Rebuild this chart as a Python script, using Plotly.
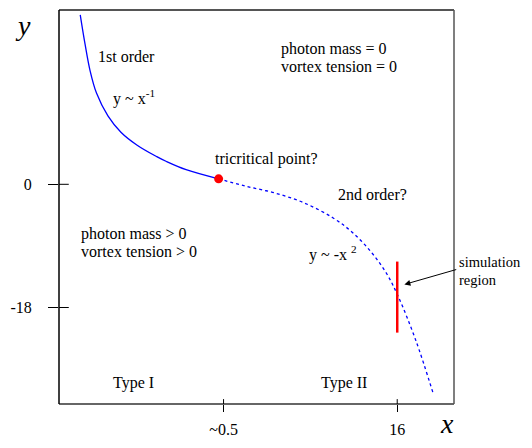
import plotly.graph_objects as go

# ---- data (nominal axis units) ----
solid_x = [-12.29, -11.86, -11.42, -10.84, -9.82, -8.66, -7.21, -5.46, -4.59, -2.84, 0.06]
solid_y = [24.76, 20.47, 16.66, 13.33, 10.0, 7.61, 5.71, 4.04, 3.33, 2.14, 0.8]
dash_x = [0.06, 2.39, 5.01, 7.63, 10.25, 12.0, 13.74, 15.05, 16.09, 17.66, 19.23]
dash_y = [0.8, -0.24, -1.24, -2.67, -4.89, -7.03, -10.03, -13.03, -16.39, -22.81, -30.67]
tricritical_x = [0.06]
tricritical_y = [0.8]
sim_x = [16.0, 16.0]
sim_y = [-11.29, -21.67]
arrow_head = (16.64, -14.63)
arrow_tail = (21.4, -12.39)

x_tickvals = [0.5, 16]
x_ticktext = ["~0.5", "16"]
y_tickvals = [0, -18]
y_ticktext = ["0", "-18"]

x_range = [-14.186, 21.067]
y_range = [-32.1, 25.47]

# The page keeps its default 8px body margin; the figure is sized so the whole
# page fits the 532x448 window exactly (no scrollbars), plot box at 50..454 x 10..413.
OFF = 8
W, H = 532 - 2 * OFF, 448 - 2 * OFF
BOX_L, BOX_R, BOX_T, BOX_B = 50, 454, 10, 413
L, T = BOX_L - OFF, BOX_T - OFF
R, B = (OFF + W) - BOX_R, (OFF + H) - BOX_B
PW, PH = W - L - R, H - T - B

def P(px, py):
    return (px - BOX_L) / PW, (BOX_B - py) / PH

FONT = "Liberation Serif"
FS = 16

fig = go.Figure()
fig.add_trace(go.Scatter(x=solid_x, y=solid_y, mode="lines", line=dict(color="#0000ff", width=1.3, shape="spline", smoothing=1.0), hoverinfo="skip"))
fig.add_trace(go.Scatter(x=dash_x, y=dash_y, mode="lines", line=dict(color="#0000ff", width=1.3, dash="3px,3px", shape="spline", smoothing=1.0), hoverinfo="skip"))
fig.add_trace(go.Scatter(x=sim_x, y=sim_y, mode="lines", line=dict(color="#ff0000", width=2.5), hoverinfo="skip"))
fig.add_trace(go.Scatter(x=tricritical_x, y=tricritical_y, mode="markers", marker=dict(color="#ff0000", size=9), hoverinfo="skip"))

shapes = []
# frame
shapes.append(dict(type="line", xref="paper", yref="paper", x0=0, x1=1, y0=1, y1=1, line=dict(color="#555555", width=2)))
shapes.append(dict(type="line", xref="paper", yref="paper", x0=0, x1=1, y0=0, y1=0, line=dict(color="#666666", width=2)))
shapes.append(dict(type="line", xref="paper", yref="paper", x0=1, x1=1, y0=0, y1=1, line=dict(color="#555555", width=1.5)))
shapes.append(dict(type="line", xref="paper", yref="paper", x0=0, x1=0, y0=0, y1=1, line=dict(color="black", width=1.5)))
# inner part of crossing ticks
for v in y_tickvals:
    shapes.append(dict(type="line", xref="paper", yref="y", x0=0, x1=10 / PW, y0=v, y1=v, line=dict(color="black", width=1)))
for v in x_tickvals:
    shapes.append(dict(type="line", xref="x", yref="paper", x0=v, x1=v, y0=0, y1=5 / PH, line=dict(color="black", width=1)))

ann = []
def txt(s, px, py, xa="left", size=FS, italic=False):
    x, y = P(px, py)
    ann.append(dict(text=s, x=x, y=y, xref="paper", yref="paper", xanchor=xa, yanchor="middle",
                    showarrow=False, borderpad=0, borderwidth=0,
                    font=dict(family=FONT, size=size, color="black",
                              style="italic" if italic else "normal")))

txt("y", 13, 26, xa="center", size=28, italic=True)
txt("x", 447, 433, xa="center", size=28, italic=True)
txt("1st order", 119, 58, xa="center")
txt("y ~ x<sup>-1</sup>", 105, 100)
txt("photon mass = 0", 277, 50)
txt("vortex tension = 0", 277, 68)
txt("tricritical point?", 210, 162)
txt("2nd order?", 335, 199)
txt("y ~ -x <sup>2</sup>", 306, 259)
txt("photon mass > 0", 72, 239)
txt("vortex tension > 0", 72, 257)
txt("simulation", 459, 268, size=14.5)
txt("region", 459, 286, size=14.5)
txt("Type I", 126, 392, xa="center")
txt("Type II", 342, 392, xa="center")

ann.append(dict(x=arrow_head[0], y=arrow_head[1], ax=arrow_tail[0], ay=arrow_tail[1],
                xref="x", yref="y", axref="x", ayref="y", text="", showarrow=True,
                arrowhead=2, arrowsize=1.2, arrowwidth=1, arrowcolor="black"))

fig.update_layout(
    width=W, height=H, autosize=False, margin=dict(l=L, r=R, t=T, b=B),
    paper_bgcolor="white", plot_bgcolor="white", showlegend=False,
    shapes=shapes, annotations=ann,
    font=dict(family=FONT, size=FS, color="black"),
    xaxis=dict(range=x_range, showgrid=False, zeroline=False, showline=False,
               tickvals=x_tickvals, ticktext=x_ticktext, ticks="outside", ticklen=7,
               tickcolor="black", tickwidth=1, ticklabelstandoff=4,
               tickfont=dict(family=FONT, size=FS, color="black")),
    yaxis=dict(range=y_range, showgrid=False, zeroline=False, showline=False,
               tickvals=y_tickvals, ticktext=y_ticktext, ticks="outside", ticklen=10,
               tickcolor="black", tickwidth=1, ticklabelstandoff=13,
               tickfont=dict(family=FONT, size=FS, color="black")),
)

fig.write_html("out.html",
               config={"displayModeBar": False, "responsive": False},
               post_script="document.querySelectorAll('svg.main-svg').forEach(function(s){s.style.overflow='visible';});")
